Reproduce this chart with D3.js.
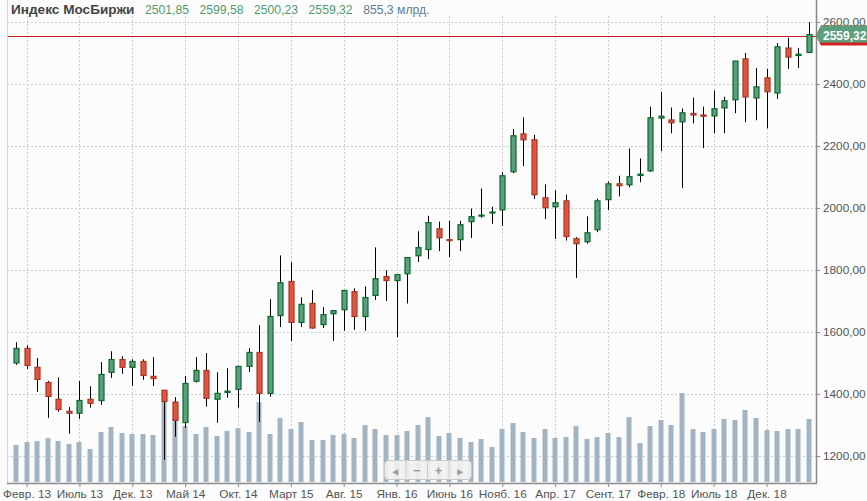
<!DOCTYPE html>
<html>
<head>
<meta charset="utf-8">
<script src="https://cdn.jsdelivr.net/npm/d3@7"></script>
<style>
  html, body { margin: 0; padding: 0; background: #fcfcfc; }
  svg { display: block; font-family: Arial, 'Liberation Sans', sans-serif; }
</style>
</head>
<body>
<svg id="chart" width="867" height="501"></svg>
<script>
// MOEX index, monthly candles Jan 2013 - Apr 2019, volume in bn RUB

const months = [
  '2013-01','2013-02','2013-03','2013-04','2013-05','2013-06','2013-07','2013-08','2013-09','2013-10','2013-11','2013-12',
  '2014-01','2014-02','2014-03','2014-04','2014-05','2014-06','2014-07','2014-08','2014-09','2014-10','2014-11','2014-12',
  '2015-01','2015-02','2015-03','2015-04','2015-05','2015-06','2015-07','2015-08','2015-09','2015-10','2015-11','2015-12',
  '2016-01','2016-02','2016-03','2016-04','2016-05','2016-06','2016-07','2016-08','2016-09','2016-10','2016-11','2016-12',
  '2017-01','2017-02','2017-03','2017-04','2017-05','2017-06','2017-07','2017-08','2017-09','2017-10','2017-11','2017-12',
  '2018-01','2018-02','2018-03','2018-04','2018-05','2018-06','2018-07','2018-08','2018-09','2018-10','2018-11','2018-12',
  '2019-01','2019-02','2019-03','2019-04'
];

const opens = [
  1500,1547,1486,1437,1383,1344,1338,1383,1379,1470,1511,1486,
  1505,1457,1412,1374,1308,1441,1476,1383,1405,1415,1489,1534,
  1402,1653,1763,1631,1692,1624,1659,1672,1730,1650,1718,1779,
  1766,1788,1846,1866,1933,1898,1898,1956,1974,1984,1994,2117,
  2239,2220,2033,2004,2023,1901,1891,1930,2027,2078,2075,2105,
  2120,2290,2284,2278,2305,2300,2297,2323,2349,2481,2355,2420,
  2371,2516,2492,2501.85
];
const highs = [
  1567,1557,1516,1442,1454,1358,1442,1425,1503,1538,1522,1512,
  1512,1519,1412,1390,1458,1519,1532,1470,1483,1489,1548,1622,
  1706,1847,1825,1712,1735,1680,1669,1734,1741,1747,1873,1799,
  1785,1840,1925,1975,1956,1959,1959,1998,2063,2004,2116,2255,
  2292,2236,2076,2057,2043,1906,1973,2030,2085,2104,2192,2160,
  2327,2375,2324,2321,2356,2327,2379,2359,2474,2500,2452,2449,
  2532,2549,2516,2599.58
];
const lows = [
  1494,1481,1407,1323,1343,1272,1320,1356,1365,1452,1465,1426,
  1446,1426,1188,1262,1291,1437,1359,1307,1388,1356,1471,1310,
  1391,1616,1571,1616,1610,1613,1571,1604,1607,1604,1703,1700,
  1584,1692,1826,1835,1861,1842,1861,1903,1969,1949,1942,2112,
  2135,2029,1964,1900,1895,1774,1885,1922,1993,2037,2067,2083,
  2116,2183,2241,2064,2273,2193,2241,2241,2306,2277,2283,2257,
  2352,2449,2452,2500.23
];
const closes = [
  1547,1492,1447,1392,1350,1338,1379,1370,1463,1511,1486,1505,
  1460,1450,1376,1315,1434,1476,1386,1402,1409,1489,1534,1402,
  1650,1759,1631,1689,1613,1656,1669,1734,1650,1711,1772,1766,
  1785,1840,1872,1953,1904,1895,1946,1972,1977,1987,2104,2233,
  2220,2043,2001,2017,1908,1885,1920,2023,2078,2072,2101,2109,
  2291,2296,2275,2307,2300,2296,2320,2346,2474,2358,2391,2375,
  2520,2487,2496,2559.32
];
const volumes = [
  502,543,557,598,557,516,543,448,679,747,665,652,
  652,638,1086,869,760,652,747,625,693,733,679,1086,
  652,869,720,815,570,570,638,652,598,774,720,638,
  638,693,774,883,625,665,598,543,584,475,720,801,
  679,598,720,598,611,760,584,611,665,611,883,530,
  760,842,774,1209,720,679,720,856,842,978,869,706,
  693,720,720,855.3
];

const priceTicks = [1200, 1400, 1600, 1800, 2000, 2200, 2400, 2600];
const monthTickIndex = [1, 6, 11, 16, 21, 26, 31, 36, 41, 46, 51, 56, 61, 66, 71];
const monthTickLabels = ['Февр. 13','Июль 13','Дек. 13','Май 14','Окт. 14','Март 15','Авг. 15','Янв. 16',
  'Июнь 16','Нояб. 16','Апр. 17','Сент. 17','Февр. 18','Июль 18','Дек. 18'];

const title = 'Индекс МосБиржи';
const volumeUnit = 'млрд.';

// layout
const plotLeft = 7, plotRight = 816, plotTop = 16, plotBottom = 483;
const GREEN = '#5c9f7e', GREEN_DARK = '#0b6a2a';
const RED = '#e05542', RED_DARK = '#a83824';

const ru = d3.formatLocale({ decimal: ',', thousands: ' ', grouping: [3], currency: ['', ' ₽'] });
const fmt2 = ru.format('.2f');
const fmt1 = ru.format('.1f');

const svg = d3.select('#chart');

const candles = months.map((m, i) => ({
  i: i, month: m, open: opens[i], high: highs[i], low: lows[i], close: closes[i], volume: volumes[i]
}));

// scales
const x = d3.scaleLinear().domain([0, months.length - 1]).range([16, 808.8]);
const y = d3.scaleLinear().domain([1200, 2600]).range([456, 22]);
const yVol = d3.scaleLinear().domain([0, d3.max(volumes)]).range([482, 393]);

// grid
const grid = svg.append('g').attr('class', 'grid')
  .style('stroke', '#c7d0d0').style('stroke-width', 1).style('stroke-dasharray', '2,2');

grid.selectAll('.hgrid')
  .data(priceTicks)
  .enter()
  .append('line')
  .attr('x1', plotLeft).attr('x2', plotRight)
  .attr('y1', d => Math.round(y(d)) + 0.5).attr('y2', d => Math.round(y(d)) + 0.5);

grid.selectAll('.vgrid')
  .data(monthTickIndex)
  .enter()
  .append('line')
  .attr('x1', d => Math.round(x(d)) + 0.5).attr('x2', d => Math.round(x(d)) + 0.5)
  .attr('y1', plotTop).attr('y2', plotBottom);

// volume bars (behind candles)
svg.append('g').selectAll('rect')
  .data(candles)
  .enter()
  .append('rect')
  .attr('x', d => Math.round(x(d.i)) - 2.5)
  .attr('width', 5)
  .attr('y', d => yVol(d.volume))
  .attr('height', d => yVol(0) - yVol(d.volume))
  .style('fill', '#a2b3c1');

// last close line
const last = candles[candles.length - 1];
const lastY = Math.round(y(last.close)) + 1.5;
svg.append('line')
  .attr('x1', plotLeft).attr('x2', plotRight)
  .attr('y1', lastY).attr('y2', lastY)
  .style('stroke', '#d01c1c').style('stroke-width', 1);

// candles
const cg = svg.append('g').attr('class', 'candles');

cg.selectAll('.wick')
  .data(candles)
  .enter()
  .append('line')
  .attr('class', 'wick')
  .attr('x1', d => Math.round(x(d.i)) + 0.5).attr('x2', d => Math.round(x(d.i)) + 0.5)
  .attr('y1', d => y(d.high)).attr('y2', d => y(d.low))
  .style('stroke', '#000').style('stroke-width', 1);

cg.selectAll('.body')
  .data(candles)
  .enter()
  .append('rect')
  .attr('class', 'body')
  .attr('x', d => Math.round(x(d.i)) - 2)
  .attr('width', 5)
  .attr('y', d => y(Math.max(d.open, d.close)))
  .attr('height', d => Math.max(1, Math.abs(y(d.open) - y(d.close))))
  .style('fill', d => d.close >= d.open ? GREEN : RED)
  .style('stroke', d => d.close >= d.open ? GREEN_DARK : RED_DARK)
  .style('stroke-width', 1.2);

// axes frame
svg.append('line')
  .attr('x1', plotLeft + 0.5).attr('x2', plotLeft + 0.5).attr('y1', 0).attr('y2', plotBottom)
  .style('stroke', '#d4d4d4');

const yAxis = d3.axisRight(y).tickValues(priceTicks).tickSize(4).tickPadding(3).tickFormat(d => fmt2(d));
const yAxisG = svg.append('g').attr('transform', `translate(${plotRight},0)`).call(yAxis);
yAxisG.select('.domain').remove();

const xAxis = d3.axisBottom(x).tickValues(monthTickIndex).tickSize(4).tickPadding(3)
  .tickFormat((d, k) => monthTickLabels[k]);
const xAxisG = svg.append('g').attr('transform', `translate(0,${plotBottom})`).call(xAxis);
xAxisG.select('.domain').remove();

[yAxisG, xAxisG].forEach(g => {
  g.selectAll('text').style('font-size', '11.8px').style('fill', '#555').style('font-family', 'Arial, "Liberation Sans", sans-serif');
  g.selectAll('.tick line').style('stroke', '#888');
});

svg.append('line')
  .attr('x1', plotRight + 0.5).attr('x2', plotRight + 0.5).attr('y1', 0).attr('y2', plotBottom + 0.5)
  .style('stroke', '#8a8a8a').style('stroke-width', 1.5);
svg.append('line')
  .attr('x1', plotLeft).attr('x2', plotRight + 1).attr('y1', plotBottom + 0.5).attr('y2', plotBottom + 0.5)
  .style('stroke', '#8a8a8a').style('stroke-width', 1.5);

// price tag on the right axis
const ty = lastY - 1;
const tag = svg.append('g');
tag.append('path')
  .attr('d', `M${plotRight},${ty} L${plotRight + 5},${ty - 10} L867,${ty - 10} L867,${ty + 10} L${plotRight + 5},${ty + 10} Z`)
  .style('fill', '#d42020');
tag.append('path')
  .attr('d', `M${plotRight},${ty} L${plotRight + 5},${ty - 10} L867,${ty - 10} L867,${ty + 7} L${plotRight + 3.5},${ty + 7} Z`)
  .style('fill', '#5c9f7e');
tag.append('text')
  .attr('x', plotRight + 7).attr('y', ty + 4)
  .style('font-size', '12px').style('font-weight', 'bold').style('fill', '#fff')
  .text(fmt2(last.close));

// header
const header = svg.append('g').attr('class', 'header');
const headerItems = [
  { text: title, color: '#444', weight: 'bold', size: 13.6 },
  { text: fmt2(last.open), color: '#4f9a6f', weight: 'normal', size: 12.2 },
  { text: fmt2(last.high), color: '#4f9a6f', weight: 'normal', size: 12.2 },
  { text: fmt2(last.low), color: '#4f9a6f', weight: 'normal', size: 12.2 },
  { text: fmt2(last.close), color: '#4f9a6f', weight: 'normal', size: 12.2 },
  { text: fmt1(last.volume) + ' ' + volumeUnit, color: '#5f7c98', weight: 'normal', size: 12.2 }
];
let hx = 11;
headerItems.forEach(item => {
  const t = header.append('text')
    .attr('x', hx).attr('y', 14)
    .style('font-size', item.size + 'px')
    .style('font-weight', item.weight)
    .style('fill', item.color)
    .text(item.text);
  hx += t.node().getComputedTextLength() + 10.5;
});

// scroll / zoom control
const nav = svg.append('g').attr('transform', 'translate(384.5,460.5)');
nav.append('rect')
  .attr('width', 87).attr('height', 19).attr('rx', 4)
  .style('fill', '#f1f1f1').style('fill-opacity', 0.9).style('stroke', '#c9c9c9');
[21.5, 43, 64.5].forEach(dx => {
  nav.append('line').attr('x1', dx).attr('x2', dx).attr('y1', 0).attr('y2', 19).style('stroke', '#d0d0d0');
});
['◄', '−', '+', '►'].forEach((s, k) => {
  nav.append('text')
    .attr('x', 10.8 + k * 21.6).attr('y', 14)
    .style('text-anchor', 'middle').style('font-size', k === 0 || k === 3 ? '10px' : '13px')
    .style('font-weight', 'bold').style('fill', '#9a9a9a')
    .text(s);
});
</script>
</body>
</html>
